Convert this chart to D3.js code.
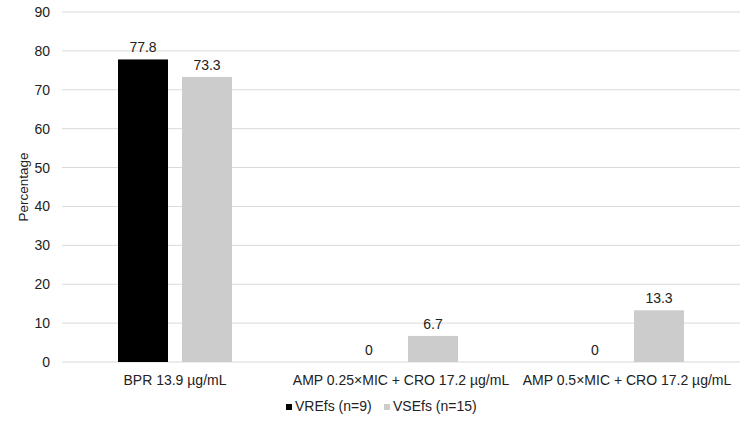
<!DOCTYPE html>
<html>
<head>
<meta charset="utf-8">
<script src="https://cdn.jsdelivr.net/npm/d3@7"></script>
<style>
  body { margin: 0; background: #fff; }
  text { font-family: "Liberation Sans", Arial, sans-serif; }
</style>
</head>
<body>
<svg id="chart"></svg>
<script>
// datos del gráfico
const categories = ["BPR 13.9 µg/mL", "AMP 0.25×MIC + CRO 17.2 µg/mL", "AMP 0.5×MIC + CRO 17.2 µg/mL"];
const series = ["VREfs (n=9)", "VSEfs (n=15)"];
const vrefs = [77.8, 0, 0];
const vsefs = [73.3, 6.7, 13.3];
const y_ticks = [0, 10, 20, 30, 40, 50, 60, 70, 80, 90];

const svg_w = 753;
const svg_h = 423;
const margin = {l: 62, r: 13, t: 12, b: 61};
const viz_w = svg_w - margin.l - margin.r;
const viz_h = svg_h - margin.t - margin.b;

const colors = ["#000000", "#cccccc"];
const txt = "#222";

let svg = d3.select("#chart")
  .attr("width", svg_w)
  .attr("height", svg_h);

let g = svg.append("g")
  .attr("transform", `translate(${margin.l},${margin.t})`);

let y_scale = d3.scaleLinear().domain([0, 90]).range([viz_h, 0]);
let x_scale = d3.scaleBand().domain(categories).range([0, viz_w]);
// grupo de 114px: dos barras de 50px con 14px de separación
let x_inner = d3.scaleBand().domain(series).range([0, 114]).paddingInner(14 / 64);

// líneas de la cuadrícula
g.append("g")
  .selectAll("line")
  .data(y_ticks)
  .enter().append("line")
  .attr("x1", 0)
  .attr("x2", viz_w)
  .attr("y1", d => y_scale(d))
  .attr("y2", d => y_scale(d))
  .attr("stroke", "#d9d9d9")
  .attr("stroke-width", 1);

// eje y
let y_axis = g.append("g")
  .call(d3.axisLeft(y_scale).tickValues(y_ticks).tickSize(0).tickPadding(12));
y_axis.select(".domain").remove();
y_axis.selectAll("text")
  .attr("font-size", 14)
  .attr("fill", txt)
  .style("font-family", "Liberation Sans, Arial, sans-serif");

// barras
let data = [];
categories.forEach((c, i) => {
  data.push({cat: c, s: series[0], v: vrefs[i], col: colors[0]});
  data.push({cat: c, s: series[1], v: vsefs[i], col: colors[1]});
});

let group_off = (x_scale.bandwidth() - 114) / 2;

g.append("g")
  .selectAll("rect")
  .data(data)
  .enter().append("rect")
  .attr("x", d => x_scale(d.cat) + group_off + x_inner(d.s))
  .attr("y", d => y_scale(d.v))
  .attr("width", x_inner.bandwidth())
  .attr("height", d => viz_h - y_scale(d.v))
  .attr("fill", d => d.col);

// etiquetas de valores
g.append("g")
  .selectAll("text")
  .data(data)
  .enter().append("text")
  .attr("x", d => x_scale(d.cat) + group_off + x_inner(d.s) + x_inner.bandwidth() / 2)
  .attr("y", d => y_scale(d.v) - 7)
  .attr("text-anchor", "middle")
  .attr("font-size", 14)
  .attr("fill", txt)
  .text(d => d.v);

// etiquetas de categorías
g.append("g")
  .selectAll("text")
  .data(categories)
  .enter().append("text")
  .attr("x", d => x_scale(d) + x_scale.bandwidth() / 2)
  .attr("y", viz_h + 23)
  .attr("text-anchor", "middle")
  .attr("font-size", 14)
  .attr("fill", txt)
  .text(d => d);

// título del eje y
svg.append("text")
  .attr("transform", `translate(28,${margin.t + viz_h / 2}) rotate(-90)`)
  .attr("text-anchor", "middle")
  .attr("font-size", 13.5)
  .attr("fill", txt)
  .text("Percentage");

// leyenda
let legend = svg.append("g").attr("transform", "translate(286,411)");
let lx = [0, 98];
series.forEach((s, i) => {
  legend.append("rect")
    .attr("x", lx[i])
    .attr("y", -7)
    .attr("width", 6)
    .attr("height", 6)
    .attr("fill", colors[i]);
  legend.append("text")
    .attr("x", lx[i] + 9)
    .attr("y", 0)
    .attr("font-size", 14)
    .attr("fill", txt)
    .text(s);
});
</script>
</body>
</html>
